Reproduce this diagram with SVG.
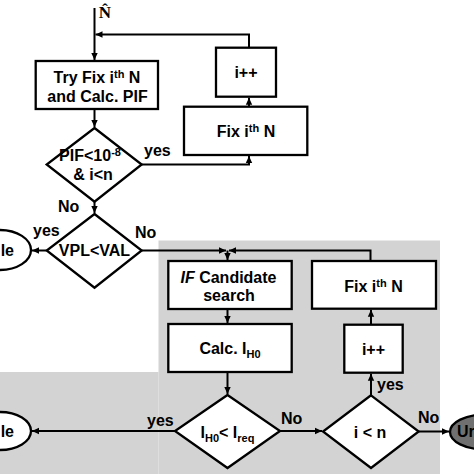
<svg xmlns="http://www.w3.org/2000/svg" width="474" height="474" viewBox="0 0 474 474">
<style>
text{font-family:"Liberation Sans",Arial,sans-serif;font-weight:bold;font-size:16px;fill:#000}
.c{text-anchor:middle}
.node{fill:#fff;stroke:#000;stroke-width:2.3}
.edge{fill:none;stroke:#000;stroke-width:2}
.sm{font-size:11px}
</style>
<defs>
<marker id="ah" markerUnits="userSpaceOnUse" markerWidth="8" markerHeight="8" viewBox="0 0 8 8" refX="7" refY="4" orient="auto">
<path d="M0,0.8 L7,4 L0,7.2 Z" fill="#000"/>
</marker>
</defs>
<g id="background">
<rect x="158.5" y="240.5" width="281.5" height="233.5" fill="#d3d3d3"/>
<rect x="0" y="372" width="158.5" height="102" fill="#d3d3d3"/>
</g>
<g id="connectors">
<path class="edge" d="M94.5,8 V60" marker-end="url(#ah)"/>
<path class="edge" d="M249,47.7 V34.5 H95.5" marker-end="url(#ah)"/>
<path class="edge" d="M94.5,109 V127" marker-end="url(#ah)"/>
<path class="edge" d="M141.7,164.5 H249 V156" marker-end="url(#ah)"/>
<path class="edge" d="M249,106.7 V97.7" marker-end="url(#ah)"/>
<path class="edge" d="M94.5,201.7 V213" marker-end="url(#ah)"/>
<path class="edge" d="M46.7,250.5 H32" marker-end="url(#ah)"/>
<path class="edge" d="M141.7,250.5 H226" marker-end="url(#ah)"/>
<path class="edge" d="M370.5,261 V250.5 H229" marker-end="url(#ah)"/>
<path class="edge" d="M227.5,250.5 V260" marker-end="url(#ah)"/>
<path class="edge" d="M227.5,309 V323" marker-end="url(#ah)"/>
<path class="edge" d="M227.5,372 V394" marker-end="url(#ah)"/>
<path class="edge" d="M175,431 H32" marker-end="url(#ah)"/>
<path class="edge" d="M280,431 H322" marker-end="url(#ah)"/>
<path class="edge" d="M371,395.3 V373.7" marker-end="url(#ah)"/>
<path class="edge" d="M371,324.7 V309.7" marker-end="url(#ah)"/>
<path class="edge" d="M418.7,431.5 H449" marker-end="url(#ah)"/>
</g>
<g id="labels">
<text x="105" y="17.5" class="c" style="font-family:'Liberation Serif',serif;font-size:17px">N&#770;</text>
<text x="144" y="156">yes</text>
<text x="58" y="211.5">No</text>
<text x="33" y="235.5">yes</text>
<text x="135" y="238">No</text>
<text x="147" y="426">yes</text>
<text x="281" y="423.5">No</text>
<text x="377" y="389.5">yes</text>
<text x="418" y="423">No</text>
</g>
<g id="try-fix">
<rect class="node" x="35.7" y="61" width="122.3" height="48"/>
<text class="c" x="97" y="82.5">Try Fix i<tspan class="sm" dy="-5">th</tspan><tspan dy="5"> N</tspan></text>
<text class="c" x="97.5" y="102">and Calc. PIF</text>
</g>
<g id="pif-check">
<polygon class="node" points="94.5,128 141.7,164.5 94.5,201.7 46.7,164.5"/>
<text class="c" x="90" y="161"><tspan>PIF&lt;10</tspan><tspan class="sm" dy="-5">-8</tspan></text>
<text class="c" x="93" y="179.5">&amp; i&lt;n</text>
</g>
<g id="fix-top">
<rect class="node" x="184" y="106.7" width="123.3" height="48.3"/>
<text class="c" x="246" y="137">Fix i<tspan class="sm" dy="-5">th</tspan><tspan dy="5"> N</tspan></text>
</g>
<g id="inc-top">
<rect class="node" x="216" y="47.7" width="60" height="49"/>
<text class="c" x="246" y="78">i++</text>
</g>
<g id="vpl-check">
<polygon class="node" points="94.5,214 141.7,250.5 94.5,287.7 46.7,250.5"/>
<text class="c" x="94.5" y="256">VPL&lt;VAL</text>
</g>
<g id="available-top">
<ellipse class="node" cx="0" cy="250" rx="31" ry="20"/>
<text x="14" y="256" style="text-anchor:end">le</text>
</g>
<g id="if-search">
<rect class="node" x="168.3" y="261" width="123.4" height="48"/>
<text class="c" x="228.5" y="282.5"><tspan font-style="italic">IF</tspan> Candidate</text>
<text class="c" x="229" y="300.5">search</text>
</g>
<g id="calc-ih0">
<rect class="node" x="168.3" y="324" width="123.4" height="48"/>
<text class="c" x="230" y="354">Calc. I<tspan class="sm" dy="4">H0</tspan></text>
</g>
<g id="ih0-check">
<polygon class="node" points="227.5,395 280,431 227.5,468 175,431"/>
<text class="c" x="227.5" y="438">I<tspan class="sm" dy="4">H0</tspan><tspan dy="-4">&lt; I</tspan><tspan class="sm" dy="4">req</tspan></text>
</g>
<g id="available-bottom">
<ellipse class="node" cx="0" cy="431" rx="31" ry="19"/>
<text x="14" y="436.5" style="text-anchor:end">le</text>
</g>
<g id="i-lt-n">
<polygon class="node" points="371,395.3 418.7,431.5 371,468 323,431.5"/>
<text class="c" x="370" y="437.5">i &lt; n</text>
</g>
<g id="inc-bottom">
<rect class="node" x="344.3" y="324.7" width="58.4" height="48"/>
<text class="c" x="373.5" y="355">i++</text>
</g>
<g id="fix-bottom">
<rect class="node" x="312" y="261" width="124" height="47.7"/>
<text class="c" x="373.5" y="291.5">Fix i<tspan class="sm" dy="-5">th</tspan><tspan dy="5"> N</tspan></text>
</g>
<g id="unavailable">
<ellipse cx="485" cy="432" rx="35" ry="17.5" fill="#707070" stroke="#000" stroke-width="2.3"/>
<text x="457" y="437">Ur</text>
</g>
</svg>
